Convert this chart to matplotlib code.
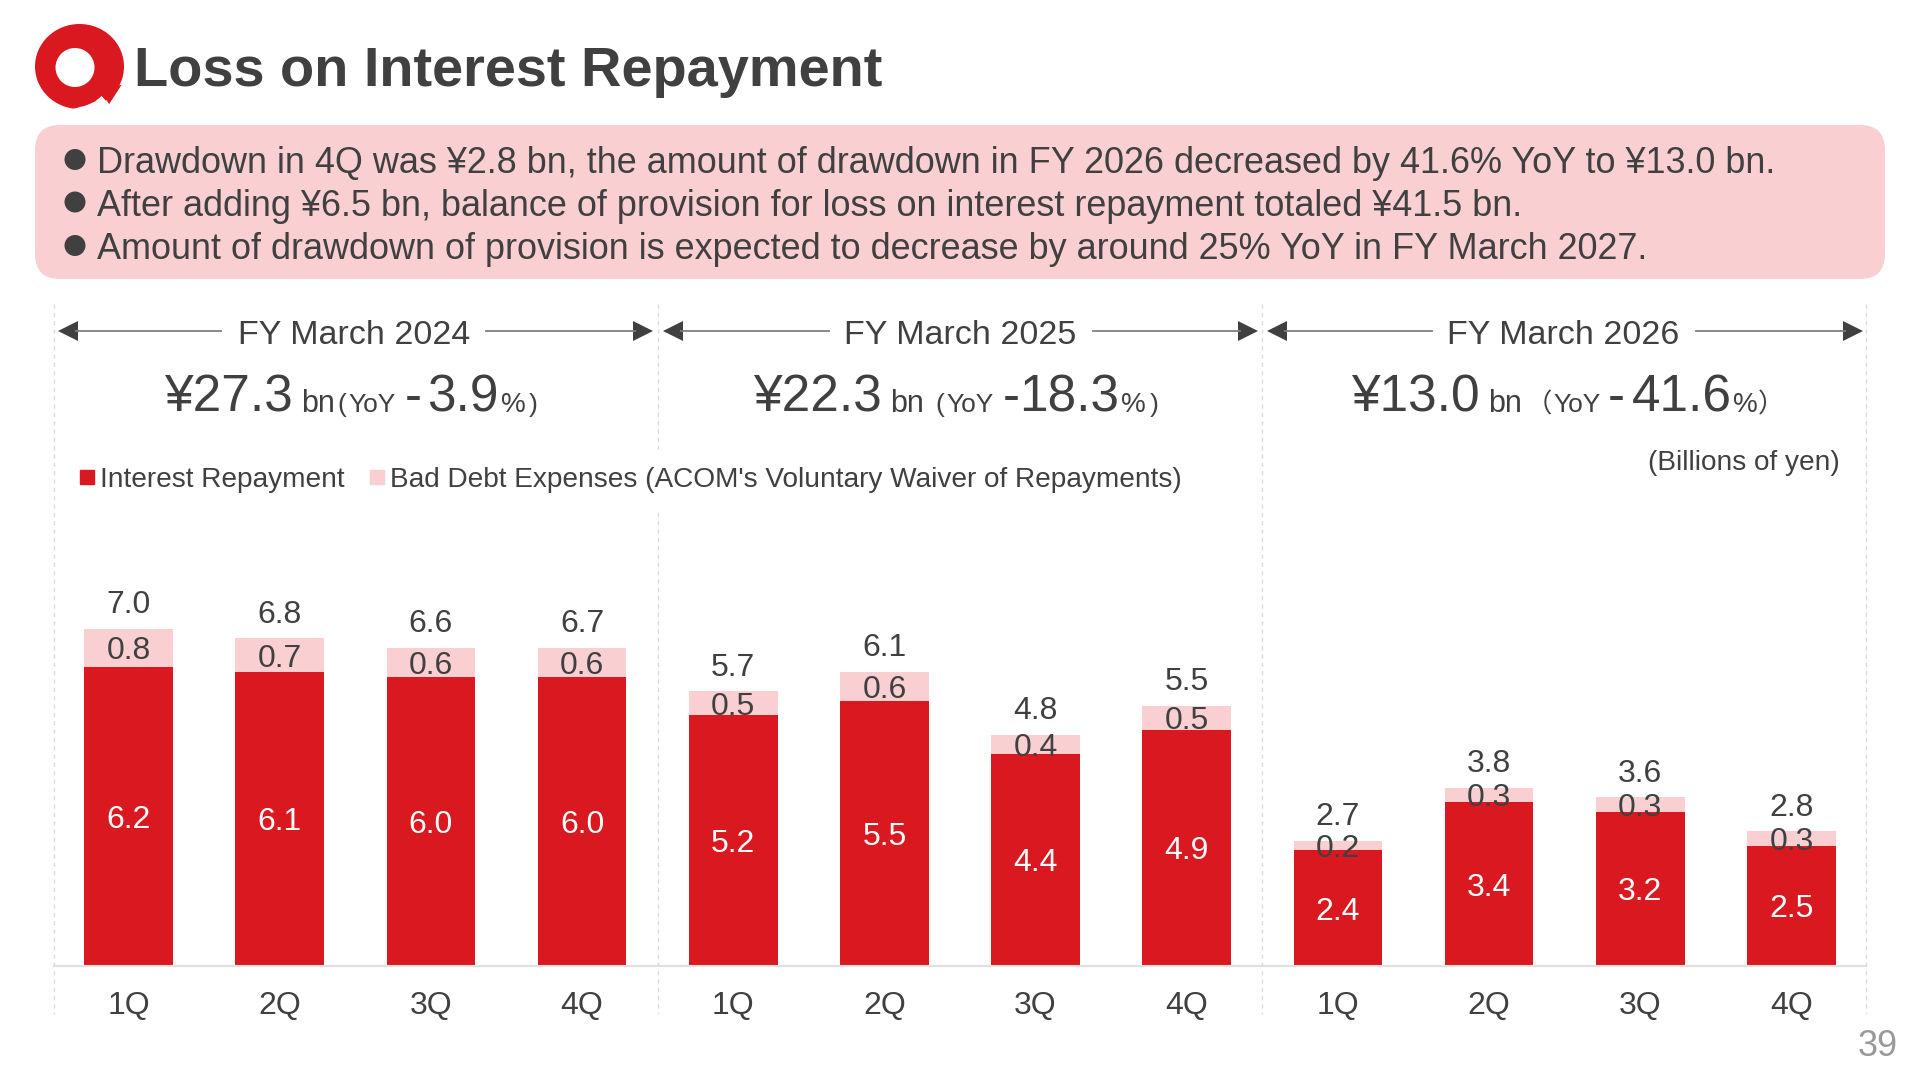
import matplotlib
matplotlib.use("Agg")
import matplotlib.pyplot as plt
from matplotlib.patches import FancyBboxPatch, Ellipse, Polygon, Patch, Circle

plt.rcParams['font.family'] = ['Liberation Sans', 'Noto Sans CJK JP', 'DejaVu Sans']

# ---- data ----
quarters = ['1Q', '2Q', '3Q', '4Q'] * 3
interest = [6.2, 6.1, 6.0, 6.0, 5.2, 5.5, 4.4, 4.9, 2.4, 3.4, 3.2, 2.5]
bad_debt = [0.8, 0.7, 0.6, 0.6, 0.5, 0.6, 0.4, 0.5, 0.2, 0.3, 0.3, 0.3]
totals = [7.0, 6.8, 6.6, 6.7, 5.7, 6.1, 4.8, 5.5, 2.7, 3.8, 3.6, 2.8]
periods = ['FY March 2024', 'FY March 2025', 'FY March 2026']
series_names = ['Interest Repayment', "Bad Debt Expenses (ACOM's Voluntary Waiver of Repayments)"]
bullets = [
    'Drawdown in 4Q was ¥2.8 bn, the amount of drawdown in FY 2026 decreased by 41.6% YoY to ¥13.0 bn.',
    'After adding ¥6.5 bn, balance of provision for loss on interest repayment totaled ¥41.5 bn.',
    'Amount of drawdown of provision is expected to decrease by around 25% YoY in FY March 2027.',
]
title = 'Loss on Interest Repayment'
summary_1 = [('¥27.3', 37, 164), ('bn', 22, 301), ('(', 19, 337), ('YoY', 19, 348), ('-', 37, 405), ('3.9', 37, 427), ('%', 20, 501), (')', 19, 529)]
summary_2 = [('¥22.3', 37, 753), ('bn', 22, 890), ('(', 19, 935), ('YoY', 19, 946), ('-', 37, 1003), ('18.3', 37, 1019), ('%', 20, 1121), (')', 19, 1150)]
summary_3 = [('¥13.0', 37, 1351), ('bn', 22, 1488), ('（', 19, 1526), ('YoY', 19, 1553), ('-', 37, 1608), ('41.6', 37, 1632), ('%', 20, 1733), ('）', 19, 1758)]

RED = '#D9181F'
PINK = '#F9CFD1'
DARK = '#404040'
W, H = 1920, 1080

fig = plt.figure(figsize=(19.2, 10.8), dpi=100, facecolor='white')

# background layer in pixel coordinates
bg = fig.add_axes([0, 0, 1, 1], zorder=0)
bg.set_xlim(0, W)
bg.set_ylim(H, 0)
bg.axis('off')

# logo
bg.add_patch(Ellipse((79.5, 66.5), 89, 85, color=RED, lw=0))
bg.add_patch(Polygon([(100, 88), (121.5, 85), (109, 104.3)], closed=True, color=RED, lw=0))
bg.add_patch(Polygon([(71, 109.5), (86.7, 105.2), (95, 101.5), (101.7, 96), (109, 104.3), (115, 112), (71, 112)],
                     closed=True, color='white', lw=0))
bg.add_patch(Ellipse((75, 67.5), 39, 39, color='white', lw=0))
bg.text(134, 72, title, fontsize=40.3, fontweight='bold', color=DARK, va='center', ha='left')

# callout
bg.add_patch(FancyBboxPatch((60, 150), 1800, 104, boxstyle='round,pad=25,rounding_size=25',
                            fc=PINK, ec='none', mutation_aspect=1))
for y, line in zip([163.5, 206, 249.5], bullets):
    bg.add_patch(Circle((75, y - 4), 10.5, color=DARK, lw=0))
    bg.text(97, y, line, fontsize=25.9, color=DARK, va='center', ha='left')

# dashed separators
for x in [54, 657.5, 1262, 1866]:
    bg.plot([x, x], [304, 1014], color='#DCDCDC', lw=1, ls=(0, (3, 3)))

# period headers with arrows
segs = [(58, 221, 486, 653, 354), (663, 829, 1093, 1258, 960), (1267, 1432, 1696, 1863, 1563)]
for (a, b, c, d, cx), p in zip(segs, periods):
    bg.plot([a + 18, b], [331, 331], color='#7F7F7F', lw=1.3)
    bg.plot([c, d - 18], [331, 331], color='#7F7F7F', lw=1.3)
    bg.add_patch(Polygon([(a, 331), (a + 20, 321), (a + 20, 341)], closed=True, color=DARK, lw=0))
    bg.add_patch(Polygon([(d, 331), (d - 20, 321), (d - 20, 341)], closed=True, color=DARK, lw=0))
    bg.text(cx, 335.5, p, fontsize=24.5, color=DARK, ha='center', va='center')

for row in (summary_1, summary_2, summary_3):
    for s, size, x in row:
        bg.text(x, 412, s, fontsize=size, color=DARK, ha='left', va='baseline')

bg.text(1840, 463, '(Billions of yen)', fontsize=20.2, color=DARK, ha='right', va='center')
bg.text(1898, 1046, '39', fontsize=26, color='#999999', ha='right', va='center')

# chart layer: bottom at y=966, 48.2 px per unit
ax = fig.add_axes([53 / W, 1 - 966 / H, (1867 - 53) / W, 482 / H], zorder=1)
ax.patch.set_alpha(0)
ax.set_xlim(-0.5, 11.5)
ax.set_ylim(0, 10)
xs = list(range(12))
ax.bar(xs, interest, width=0.587, color=RED, label=series_names[0])
ax.bar(xs, bad_debt, bottom=interest, width=0.587, color=PINK, label=series_names[1])
px = 0.72  # points per pixel
for x, i, b, t in zip(xs, interest, bad_debt, totals):
    ax.annotate(f'{i:.1f}', (x, i / 2), xytext=(0, -3.5 * px), textcoords='offset points',
                color='white', fontsize=23, ha='center', va='center')
    ax.annotate(f'{b:.1f}', (x, i + b / 2), xytext=(0, -3.5 * px), textcoords='offset points',
                color=DARK, fontsize=23, ha='center', va='center')
    ax.annotate(f'{t:.1f}', (x, i + b), xytext=(0, 23.5 * px), textcoords='offset points',
                color=DARK, fontsize=23, ha='center', va='center')
ax.set_xticks(xs, quarters, fontsize=23, color=DARK)
ax.set_yticks([])
ax.tick_params(axis='x', length=0, pad=18)
for s in ('top', 'left', 'right'):
    ax.spines[s].set_visible(False)
ax.spines['bottom'].set_color('#E0E0E0')
ax.spines['bottom'].set_linewidth(1.5)
ax.spines['bottom'].set_bounds(-0.493, 11.493)

handles = [Patch(color=RED, label=series_names[0]), Patch(color=PINK, label=series_names[1])]
leg = ax.legend(handles=handles, ncol=2, loc='center left', bbox_to_anchor=(63 / W, 1 - 480 / H),
                bbox_transform=fig.transFigure, frameon=True, framealpha=1, facecolor='white',
                edgecolor='none', fancybox=False, fontsize=20.2, handlelength=0.515, handleheight=0.4,
                handletextpad=0.2, columnspacing=0.9, labelcolor=DARK, borderpad=0.6, borderaxespad=0)

fig.savefig('out.png', dpi=100)
